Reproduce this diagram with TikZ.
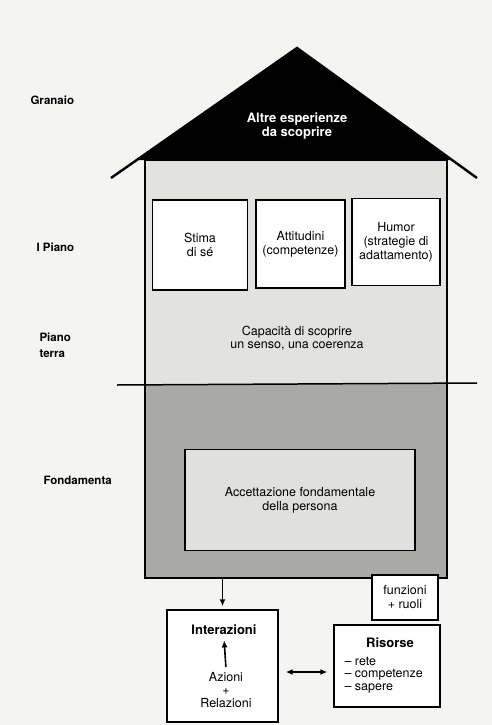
\documentclass[tikz,border=0pt]{standalone}
\usepackage{fontspec}
\setmainfont{TeX Gyre Heros}
\usetikzlibrary{positioning}
\usetikzlibrary{arrows.meta}
\definecolor{pagebg}{HTML}{F4F4F2}
\definecolor{upperfill}{HTML}{E2E2E0}
\definecolor{lowerfill}{HTML}{A9A9A7}
\definecolor{basefill}{HTML}{E0E0DE}
\tikzset{
    roombox/.style = {rectangle, line width=1.4pt, draw=black, align=center, fill=white, inner sep=0pt, text=black},
    basebox/.style = {rectangle, line width=1.4pt, draw=black, align=center, fill=basefill, inner sep=0pt, text=black},
    outbox/.style = {rectangle, line width=1.4pt, draw=black, align=center, fill=white, inner sep=0pt, text=black},
    housebody/.style = {rectangle, line width=1.7pt, draw=black, inner sep=0pt, minimum width=302pt, minimum height=418pt},
    floorlabel/.style = {anchor=west, align=left, font=\fontsize{11.5}{16}\selectfont\bfseries},
    rooftext/.style = {align=center, text=white, font=\fontsize{13}{14}\selectfont\bfseries},
    boldtitle/.style = {font=\fontsize{13}{14}\selectfont\bfseries},
    edgen/.style = {line width=1.6pt, black, -{Latex[length=7pt,width=6pt]}},
    edged/.style = {line width=1.6pt, black, {Latex[length=7pt,width=6pt]}-{Latex[length=7pt,width=6pt]}}
}

\begin{document}
\begin{tikzpicture}[x=1pt, y=-1pt, font=\fontsize{12.5}{14}\selectfont]
  \fill[pagebg] (0,0) rectangle (492,725);
  % roof
  \fill[black] (297,48) -- (137,160) -- (452,160) -- cycle;
  \draw[line width=2.4pt] (111,178) -- (297,48) -- (477,178);
  \node[rooftext] (granaio) at (297,126) {Altre esperienze\\da scoprire};
  % walls
  \fill[upperfill] (145,160) rectangle (447,384);
  \fill[lowerfill] (145,384) rectangle (447,578);
  \node[housebody] (house) at (296,369) {};
  \draw[line width=1.5pt] (117,385) -- (477,383);
  % first floor
  \node[roombox, minimum width=95pt, minimum height=90pt] (stima) at (200,245) {Stima\\di sé};
  \node[roombox, minimum width=89pt, minimum height=88pt] (attitudini) at (300.5,244) {Attitudini\\(competenze)};
  \node[roombox, minimum width=88pt, minimum height=87pt] (humor) at (396,242) {Humor\\(strategie di\\adattamento)};
  \node[align=center, font=\fontsize{12.5}{12.5}\selectfont] (capacita) at (297,338) {Capacità di scoprire\\un senso, una coerenza};
  \node[basebox, minimum width=230pt, minimum height=101pt] (accettazione) at (300,500) {Accettazione fondamentale\\della persona};
  % floor names
  \node[floorlabel] (lgranaio) at (27,100) {Granaio};
  \node[floorlabel] (lpiano) at (33,247) {I Piano};
  \node[floorlabel] (lterra) at (36,345) {Piano\\terra};
  \node[floorlabel] (lfondamenta) at (40,480) {Fondamenta};
  % below the house
  \node[outbox, minimum width=111pt, minimum height=112pt] (interazioni) at (222.5,666) {};
  \node[boldtitle] (intertitle) at (224,630) {Interazioni};
  \node[align=center, font=\fontsize{12.5}{13}\selectfont] (azioni) at (226,690) {Azioni\\+\\Relazioni};
  \node[outbox, minimum width=66pt, minimum height=45pt] (funzioni) at (405,597.5) {funzioni\\+ ruoli};
  \node[outbox, minimum width=106pt, minimum height=82pt] (risorse) at (387,666) {};
  \node[boldtitle] (risorsetitle) at (390,643) {Risorse};
  \node[anchor=west, align=left, font=\fontsize{12.5}{12.5}\selectfont] (risorselist) at (341,675) {– rete\\– competenze\\– sapere};
  \coordinate (midarrow) at (300,672);
  \draw[edgen, shorten >=3pt] (house.south -| interazioni.north) -- (interazioni.north);
  \draw[edgen, shorten <=2pt, shorten >=2pt] (azioni.north) -- (intertitle.south);
  \draw[edged, shorten <=7pt, shorten >=6pt] (interazioni.east |- midarrow) -- (risorse.west |- midarrow);
\end{tikzpicture}
\end{document}
